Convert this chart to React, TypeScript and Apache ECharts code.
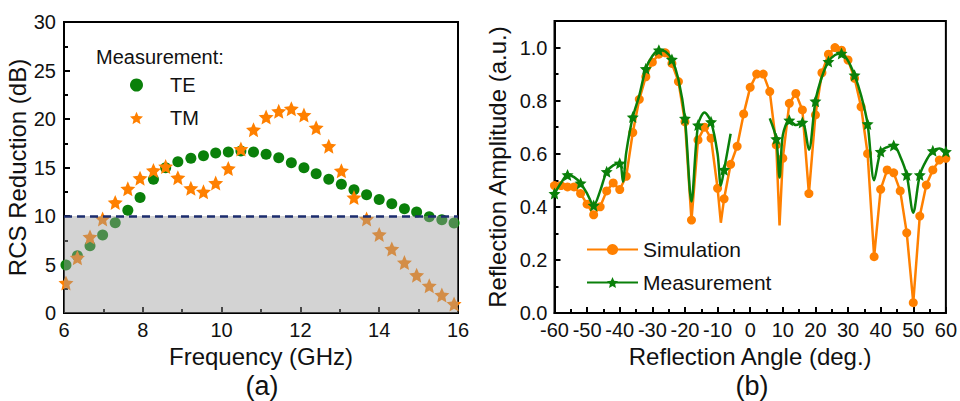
import React, { useEffect, useRef } from "react";
import * as echarts from "echarts";

// ---------- Panel (a): RCS reduction ----------
const freqGHz = [6.05, 6.34, 6.66, 6.98, 7.3, 7.62, 7.93, 8.27, 8.58, 8.89, 9.22, 9.54, 9.85, 10.17, 10.49, 10.81,
  11.13, 11.45, 11.77, 12.09, 12.4, 12.72, 13.04, 13.36, 13.68, 14.0, 14.32, 14.64, 14.95, 15.27, 15.59, 15.9];
const teReduction = [4.95, 5.9, 6.94, 8.04, 9.31, 10.6, 11.9, 13.8, 14.98, 15.6, 15.95, 16.2, 16.5, 16.6, 16.7, 16.6,
  16.36, 16.0, 15.5, 14.98, 14.36, 13.8, 13.27, 12.7, 12.2, 11.7, 11.27, 10.75, 10.4, 9.93, 9.62, 9.28];
const tmReduction = [3.1, 5.7, 7.84, 9.7, 11.4, 12.8, 13.9, 14.7, 15.1, 13.95, 12.85, 12.5, 13.4, 14.9, 16.9, 18.9,
  20.2, 20.8, 21.06, 20.4, 19.1, 17.2, 14.67, 11.9, 9.7, 8.1, 6.6, 5.2, 3.9, 2.8, 1.86, 0.93];
const rcsThreshold = 10;

// ---------- Panel (b): reflection amplitude ----------
const simAngles = [-60, -58, -56, -54, -52, -50, -48, -46, -44, -42, -40, -38, -36, -34, -32, -30, -28, -26, -24, -22,
  -20, -18, -16, -14, -12, -10, -9, -8, -6, -4, -2, 0, 2, 4, 6, 8, 9, 10, 12, 14, 16, 18, 20, 22, 24, 26, 28, 30, 32,
  34, 36, 38, 40, 42, 44, 46, 48, 50, 52, 54, 56, 58, 60];
const simAmplitude = [0.48, 0.48, 0.475, 0.475, 0.45, 0.41, 0.37, 0.4, 0.46, 0.49, 0.465, 0.515, 0.68, 0.805, 0.89,
  0.945, 0.975, 0.98, 0.94, 0.872, 0.72, 0.35, 0.652, 0.7, 0.658, 0.47, 0.34, 0.43, 0.56, 0.628, 0.75, 0.85, 0.9, 0.9,
  0.834, 0.633, 0.33, 0.583, 0.79, 0.827, 0.765, 0.45, 0.746, 0.905, 0.975, 1.0, 0.99, 0.953, 0.884, 0.777, 0.6, 0.212,
  0.466, 0.539, 0.528, 0.46, 0.302, 0.039, 0.365, 0.482, 0.539, 0.576, 0.583];
const measAngles = [-60, -58, -56, -54, -52, -50, -48, -46, -44, -42, -40, -39, -38, -36, -34, -32, -30, -28, -26, -24,
  -22, -20, -18, -16, -14, -12, -10, -9, -8, -6, 0, 6, 8, 9, 10, 12, 14, 16, 18, 20, 22, 24, 26, 28, 30, 32, 34, 36, 38,
  40, 42, 44, 46, 48, 50, 52, 54, 56, 58, 60];
const measAmplitude: (number | null)[] = [0.45, 0.49, 0.52, 0.512, 0.489, 0.45, 0.405, 0.46, 0.532, 0.556, 0.564, 0.495,
  0.605, 0.738, 0.82, 0.92, 0.968, 0.99, 0.985, 0.955, 0.88, 0.733, 0.42, 0.708, 0.755, 0.72, 0.6, 0.48, 0.54, 0.675,
  null, 0.733, 0.656, 0.51, 0.67, 0.726, 0.708, 0.718, 0.615, 0.798, 0.89, 0.947, 0.972, 0.978, 0.95, 0.896, 0.82,
  0.712, 0.5, 0.608, 0.625, 0.631, 0.59, 0.52, 0.378, 0.52, 0.575, 0.611, 0.62, 0.608];

const ORANGE = "#ff8000";
const GREEN = "#0a800a";
const FONT = "Liberation Sans, Arial, sans-serif";
const STAR =
  "path://M100 0 L127.5 62 L195.1 69.1 L144 114.5 L158.8 180.9 L100 147 L41.2 180.9 L56 114.5 L4.9 69.1 L72.5 62 Z";

export default function App() {
  const ref = useRef<HTMLDivElement>(null);
  useEffect(() => {
    if (!ref.current) return;
    const chart = echarts.init(ref.current, null, { renderer: "svg" });
    const axisCommon = {
      axisLine: { show: true, onZero: false, lineStyle: { color: "#000", width: 2 } },
      axisTick: { show: true, inside: true, length: 6, lineStyle: { color: "#000", width: 2 } },
      minorTick: { show: true, splitNumber: 2, length: 4, lineStyle: { color: "#000", width: 2 } },
      splitLine: { show: false },
      axisLabel: { color: "#111", fontSize: 20, fontFamily: FONT },
      nameTextStyle: { color: "#111", fontSize: 24, fontFamily: FONT },
      nameLocation: "middle" as const,
    };
    chart.setOption({
      animation: false,
      backgroundColor: "#fff",
      grid: [
        { left: 64, top: 22, width: 394, height: 291, show: true, borderColor: "#000", borderWidth: 2, backgroundColor: "transparent" },
        { left: 554.5, top: 21, width: 394.5, height: 292, show: true, borderColor: "#000", borderWidth: 2, backgroundColor: "transparent" },
      ],
      xAxis: [
        { ...axisCommon, type: "value", gridIndex: 0, min: 6, max: 16, interval: 2, name: "Frequency (GHz)", nameGap: 28,
          axisLabel: { ...axisCommon.axisLabel, margin: 7 } },
        { ...axisCommon, type: "value", gridIndex: 1, min: -60, max: 60, interval: 10, name: "Reflection Angle (deg.)", nameGap: 28,
          axisLabel: { ...axisCommon.axisLabel, margin: 7 } },
      ],
      yAxis: [
        { ...axisCommon, type: "value", gridIndex: 0, min: 0, max: 30, interval: 5, name: "RCS Reduction (dB)", nameGap: 29,
          axisLabel: { ...axisCommon.axisLabel, margin: 8 } },
        { ...axisCommon, type: "value", gridIndex: 1, min: 0, max: 1.1, interval: 0.2, name: "Reflection Amplitude (a.u.)", nameGap: 45,
          axisLabel: { ...axisCommon.axisLabel, margin: 7, formatter: (v: number) => (v > 1.05 ? "" : v.toFixed(1)) } },
      ],
      legend: [
        { orient: "vertical", left: 125, top: 70, padding: 5, itemWidth: 13, itemHeight: 13, itemGap: 13, data: ["TE", "TM"],
          textStyle: { fontSize: 20, fontFamily: FONT, color: "#111", padding: [0, 0, 0, 22] } },
        { orient: "vertical", left: 581, top: 234, padding: 5, itemWidth: 51, itemHeight: 14, itemGap: 12,
          data: ["Simulation", "Measurement"],
          textStyle: { fontSize: 21, fontFamily: FONT, color: "#111" } },
      ],
      graphic: [
        { type: "text", left: 96, top: 47, style: { text: "Measurement:", fontSize: 20, fontFamily: FONT, fill: "#111" } },
        { type: "text", x: 262, y: 386, style: { text: "(a)", fontSize: 27, fontFamily: FONT, fill: "#111", align: "center", verticalAlign: "middle" } },
        { type: "text", x: 752, y: 386, style: { text: "(b)", fontSize: 27, fontFamily: FONT, fill: "#111", align: "center", verticalAlign: "middle" } },
      ],
      series: [
        { name: "TE", type: "scatter", xAxisIndex: 0, yAxisIndex: 0, symbol: "circle", symbolSize: 11, z: 2,
          itemStyle: { color: GREEN, opacity: 1 }, data: freqGHz.map((f, i) => [f, teReduction[i]]) },
        { name: "TM", type: "scatter", xAxisIndex: 0, yAxisIndex: 0, symbol: STAR, symbolSize: 15, z: 2,
          itemStyle: { color: ORANGE, opacity: 1 }, data: freqGHz.map((f, i) => [f, tmReduction[i]]) },
        { name: "threshold", type: "line", xAxisIndex: 0, yAxisIndex: 0, z: 5, data: [], silent: true,
          markArea: { silent: true, z: 5, itemStyle: { color: "rgba(157,157,157,0.45)" }, data: [[{ yAxis: 0 }, { yAxis: rcsThreshold }]] },
          markLine: { silent: true, z: 6, symbol: "none", label: { show: false },
            lineStyle: { color: "#1c2d6e", width: 2.5, type: [8, 5] }, data: [{ yAxis: rcsThreshold }] } },
        { name: "Simulation", type: "line", xAxisIndex: 1, yAxisIndex: 1, z: 3, color: ORANGE, showAllSymbol: true,
          symbol: "circle", symbolSize: (v: number[]) => (v[0] % 2 === 0 ? 9 : 0),
          lineStyle: { color: ORANGE, width: 2.5 }, itemStyle: { color: ORANGE },
          data: simAngles.map((a, i) => [a, simAmplitude[i]]) },
        { name: "Measurement", type: "line", xAxisIndex: 1, yAxisIndex: 1, z: 4, color: GREEN, smooth: 0.3, showAllSymbol: true,
          symbol: STAR, symbolSize: (v: number[]) => (v[0] % 4 === 0 ? 12 : 0),
          lineStyle: { color: GREEN, width: 2.5 }, itemStyle: { color: GREEN },
          data: measAngles.map((a, i) => [a, measAmplitude[i] === null ? "-" : measAmplitude[i]]) },
      ],
    });
    return () => chart.dispose();
  }, []);
  return <div ref={ref} style={{ position: "fixed", left: 0, top: 0, width: 960, height: 401, background: "#fff" }} />;
}
